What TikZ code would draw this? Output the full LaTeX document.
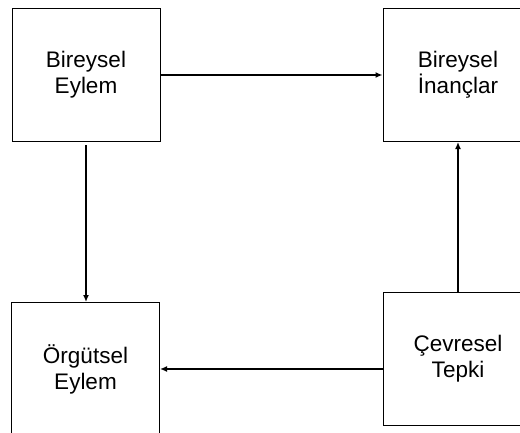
\documentclass[tikz,border=0pt]{standalone}
\usepackage{fontspec}
\setmainfont{Liberation Sans}
\usetikzlibrary{arrows.meta}
\begin{document}
\begin{tikzpicture}[x=1pt,y=-1pt,
  box/.style={draw, line width=1pt, minimum width=148pt, minimum height=133pt,
    align=center, font=\fontsize{22.5}{26}\selectfont, inner sep=0pt},
  conn/.style={line width=1.6pt, -{Latex[length=7pt,width=6pt]}}]
\useasboundingbox (0,0) rectangle (520,432);
\clip (0,0) rectangle (520,432);
\node[box] (be) at (86,75) {Bireysel\\Eylem};
\node[box, minimum width=150pt] (bi) at (458,75) {Bireysel\\İnançlar};
\node[box] (oe) at (85.5,369) {Örgütsel\\Eylem};
\node[box, minimum width=150pt] (ct) at (458,358.5) {Çevresel\\Tepki};
\draw[conn] (be) -- (bi);
\draw[conn, shorten <=3pt] (be.south) -- (be.south |- oe.north);
\draw[conn] (ct) -- (bi);
\draw[conn] (ct.west |- oe) -- (oe.east);
\end{tikzpicture}
\end{document}
